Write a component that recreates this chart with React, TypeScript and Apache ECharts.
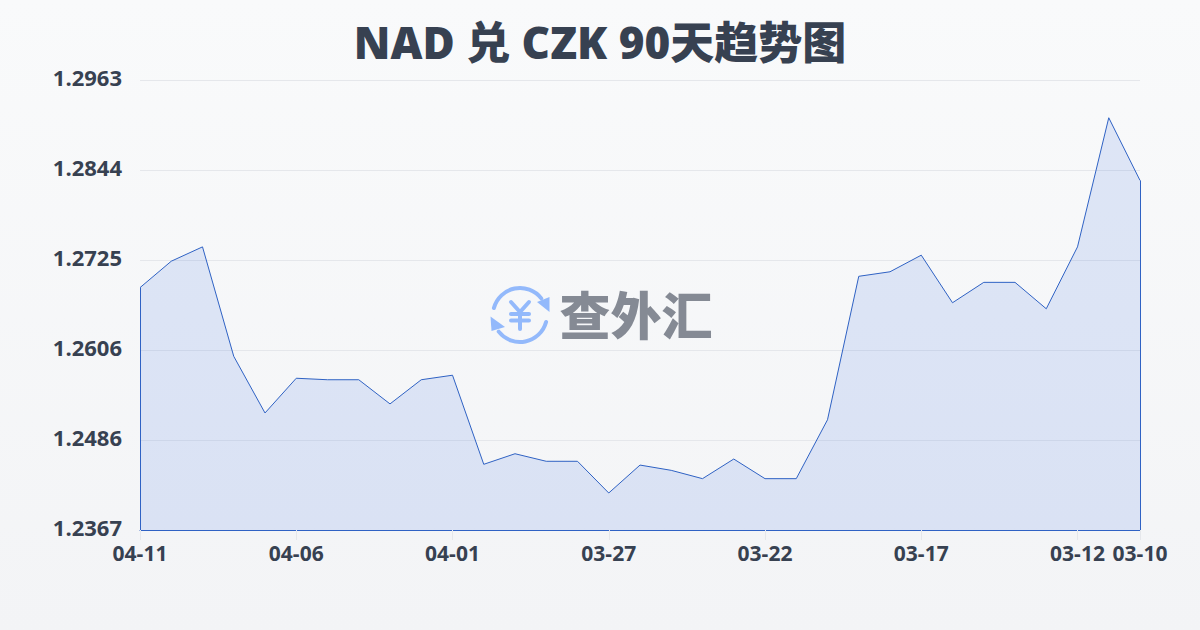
import React, { useEffect, useRef } from "react";
import * as echarts from "echarts";

const titleText = "NAD 兑 CZK 90天趋势图";
const watermarkText = "查外汇";
const axisBase = 1.2367;
const axisTop = 1.2963;
const tickLabels = ["1.2367", "1.2486", "1.2606", "1.2725", "1.2844", "1.2963"];
const dates = [
  "04-11", "04-10", "04-09", "04-08", "04-07", "04-06", "04-05", "04-04", "04-03", "04-02", "04-01",
  "03-31", "03-30", "03-29", "03-28", "03-27", "03-26", "03-25", "03-24", "03-23", "03-22",
  "03-21", "03-20", "03-19", "03-18", "03-17", "03-16", "03-15", "03-14", "03-13", "03-12", "03-11", "03-10",
];
const rates = [
  1.2688, 1.2723, 1.2742, 1.2597, 1.2522, 1.2568, 1.2566, 1.2566, 1.2534, 1.2566, 1.2572,
  1.2454, 1.2468, 1.2458, 1.2458, 1.2416, 1.2453, 1.2446, 1.2435, 1.2461, 1.2435,
  1.2435, 1.2513, 1.2703, 1.2709, 1.2731, 1.2668, 1.2695, 1.2695, 1.266, 1.2742, 1.2913, 1.283,
];
const shownDates = ["04-11", "04-06", "04-01", "03-27", "03-22", "03-17", "03-12", "03-10"];

const LINE = "#2f62c4";
const INK = "#374151";
const ICON = "#93b9fb";
const WM = "#858a94";
const GRIDC = "#e5e7eb";

export default function App() {
  const ref = useRef<HTMLDivElement>(null);
  useEffect(() => {
    document.body.style.margin = "0";
    const chart = echarts.init(ref.current!, undefined, { renderer: "svg" });
    const span = axisTop - axisBase;
    const deg = (d: number) => (d * Math.PI) / 180;
    const stroke = { stroke: ICON, lineWidth: 4, lineCap: "round", fill: "none" };
    chart.setOption({
      animation: false,
      backgroundColor: {
        type: "linear", x: 0, y: 0, x2: 0, y2: 1,
        colorStops: [{ offset: 0, color: "#f9fafb" }, { offset: 1, color: "#f3f4f6" }],
      },
      title: {
        text: titleText, left: "center", top: 15,
        textStyle: { fontFamily: "'Open Sans', 'Noto Sans CJK SC'", fontSize: 44, fontWeight: 800, color: INK },
      },
      grid: { left: 140, right: 60, top: 80, bottom: 100 },
      xAxis: {
        type: "category", data: dates, boundaryGap: false,
        axisLine: { show: true, lineStyle: { color: LINE, width: 1 } },
        axisTick: {
          show: true, length: 10, lineStyle: { color: GRIDC },
          interval: (_: number, v: string) => shownDates.includes(v),
        },
        axisLabel: {
          interval: (_: number, v: string) => shownDates.includes(v),
          margin: 12, color: INK, fontSize: 21, fontWeight: 700,
          fontFamily: "'Open Sans', sans-serif",
        },
      },
      yAxis: {
        type: "value", min: 0, max: span, interval: span / 5,
        axisLine: { show: false }, axisTick: { show: false },
        splitLine: { show: true, lineStyle: { color: GRIDC, width: 1 } },
        axisLabel: {
          margin: 18, color: INK, fontSize: 22, fontWeight: 700,
          fontFamily: "'Open Sans', sans-serif", verticalAlign: "bottom", lineHeight: 7,
          formatter: (_: number, i: number) => tickLabels[i],
        },
      },
      series: [{
        type: "line", data: rates.map((v) => v - axisBase),
        symbol: "none", smooth: false, z: 3,
        lineStyle: { color: LINE, width: 1 },
        areaStyle: { color: "rgba(50,105,225,0.19)", origin: "start" },
        markLine: {
          silent: true, symbol: "none", label: { show: false },
          lineStyle: { color: LINE, width: 1, type: "solid" },
          data: [
            [{ coord: [dates[0], 0] }, { coord: [dates[0], rates[0] - axisBase] }],
            [{ coord: [dates[32], 0] }, { coord: [dates[32], rates[32] - axisBase] }],
          ],
        },
      }],
      graphic: [
        { type: "arc", z: 10, shape: { cx: 520, cy: 315, r: 27, startAngle: deg(195), endAngle: deg(322), clockwise: true }, style: stroke },
        { type: "arc", z: 10, shape: { cx: 520, cy: 315, r: 27, startAngle: deg(15), endAngle: deg(142), clockwise: true }, style: stroke },
        { type: "polygon", z: 10, shape: { points: [[537, 302], [549.5, 297], [549.5, 312]] }, style: { fill: ICON } },
        { type: "polygon", z: 10, shape: { points: [[490.5, 316.5], [505, 327], [491.5, 331]] }, style: { fill: ICON } },
        { type: "polyline", z: 10, shape: { points: [[511, 302], [520, 312], [529, 302]] }, style: stroke },
        { type: "line", z: 10, shape: { x1: 511, y1: 314, x2: 529, y2: 314 }, style: stroke },
        { type: "line", z: 10, shape: { x1: 511, y1: 320.5, x2: 529, y2: 320.5 }, style: stroke },
        { type: "line", z: 10, shape: { x1: 520, y1: 312, x2: 520, y2: 329 }, style: stroke },
        {
          type: "text", z: 10, x: 636, y: 313,
          style: {
            text: watermarkText, fill: WM, fontSize: 51, fontWeight: 900,
            fontFamily: "'Noto Sans CJK SC'", align: "center", verticalAlign: "middle",
          },
        },
      ],
    });
    return () => chart.dispose();
  }, []);
  return <div ref={ref} style={{ width: 1200, height: 630 }} />;
}
